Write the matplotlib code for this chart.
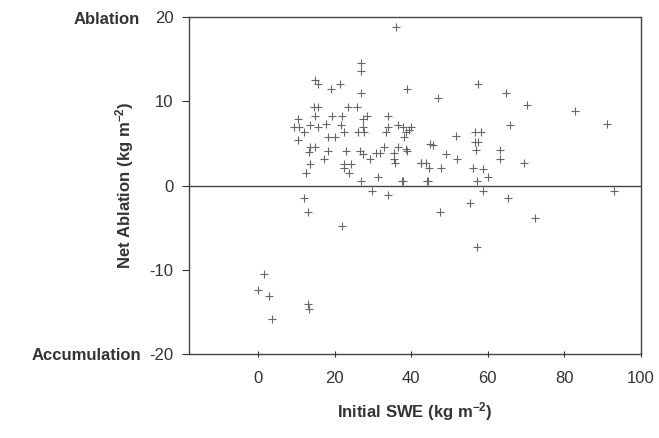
import matplotlib
matplotlib.use("Agg")
import matplotlib.pyplot as plt

plt.rcParams['font.family'] = ['Liberation Sans', 'DejaVu Sans']
plt.rcParams['axes.unicode_minus'] = False
plt.rcParams['mathtext.default'] = 'regular'

# Initial SWE (kg m^-2)
swe = [36.0, 26.9, 26.9, 14.9, 15.7, 19.0, 21.4, 26.9, 38.9, 47.0, 57.4, 64.8,
       70.2, 82.8, 91.0, 65.8,
       14.6, 15.7, 23.5, 25.8, 10.4, 14.9, 19.3, 21.9, 27.4, 28.5, 33.9,
       9.4, 10.7, 12.0, 13.6, 15.7, 17.8, 21.7, 22.5, 27.4, 27.7, 26.1,
       33.9, 33.4, 36.6, 37.9, 40.0, 38.6, 38.1, 10.4, 18.3, 20.1,
       13.6, 14.9, 13.3, 18.3, 23.0, 26.6, 27.4, 32.9, 30.8, 31.9, 29.2,
       35.5, 35.5, 35.8, 36.6, 38.9, 17.2, 13.6, 22.5, 24.3, 22.5, 23.8,
       12.5, 26.9, 31.3, 37.6, 44.1, 42.6, 43.9, 44.9,
       51.7, 56.7, 58.2, 56.7, 57.4, 45.7, 38.6, 63.2, 49.1, 52.0, 56.9,
       63.2, 42.6, 44.6, 47.8, 56.1, 58.7, 60.1, 37.9, 44.4, 57.2, 69.5, 39.4,
       58.7, 65.3, 55.4, 47.5, 72.3, 57.2, 93.0,
       12.0, 13.0, 21.9, 29.8, 33.9, 1.6, 0.0, 2.9, 3.7, 13.0, 13.2]

# Net ablation (kg m^-2)
abl = [18.8, 13.6, 14.5, 12.5, 12.0, 11.5, 12.0, 11.0, 11.5, 10.4, 12.0, 11.0,
       9.5, 8.9, 7.3, 7.2,
       9.3, 9.3, 9.3, 9.3, 7.9, 8.3, 8.3, 8.3, 7.9, 8.3, 8.3,
       6.9, 6.9, 6.3, 7.2, 6.9, 7.3, 7.2, 6.4, 6.9, 6.3, 6.3,
       7.0, 6.4, 7.2, 6.9, 6.9, 6.3, 5.8, 5.4, 5.8, 5.8,
       4.6, 4.6, 4.0, 4.1, 4.1, 4.1, 3.7, 4.6, 3.8, 3.8, 3.2,
       3.8, 3.1, 2.7, 4.6, 4.1, 3.1, 2.6, 2.6, 2.6, 2.1, 1.5,
       1.5, 0.5, 1.0, 0.5, 0.5, 2.7, 2.7, 4.9,
       5.9, 6.3, 6.3, 5.2, 5.2, 4.8, 4.3, 4.2, 3.7, 3.2, 4.2,
       3.1, 2.7, 2.1, 2.1, 2.1, 1.9, 1.0, 0.5, 0.5, 0.5, 2.7, 6.6,
       -0.7, -1.5, -2.1, -3.2, -3.8, -7.3, -0.7,
       -1.5, -3.2, -4.8, -0.6, -1.1, -10.5, -12.4, -13.1, -15.9, -14.1, -14.6]

x_ticks = [0, 20, 40, 60, 80, 100]
y_ticks = [-20, -10, 0, 10, 20]

fig = plt.figure(figsize=(6.59, 4.38), dpi=100)
ax = fig.add_axes([189/659, 1-354/438, (641-189)/659, (354-17)/438])

ax.scatter(swe, abl, marker='+', s=30, linewidths=0.8, color='#666666', zorder=3)
ax.axhline(0, color='#444444', lw=1.0, zorder=2)

ax.set_xlim(-18, 100)
ax.set_ylim(-20, 20)
ax.set_xticks(x_ticks)
ax.set_yticks(y_ticks)
ax.tick_params(axis='y', direction='out', length=5, width=0.8, pad=6,
               labelsize=12, colors='#333333')
ax.tick_params(axis='x', direction='inout', length=5, width=0.8, pad=10,
               labelsize=12, colors='#333333')
for s in ax.spines.values():
    s.set_color('#444444')
    s.set_linewidth(1.0)

ax.set_xlabel('Initial SWE (kg m$^{-2}$)', fontsize=12, fontweight='bold',
              color='#333333', labelpad=10)
ax.set_ylabel('Net Ablation (kg m$^{-2}$)', fontsize=12, fontweight='bold',
              color='#333333', labelpad=10)

fig.text(140/659, 1-20/438, 'Ablation', ha='right', va='center', fontsize=12,
         fontweight='bold', color='#333333')
fig.text(141/659, 1-355/438, 'Accumulation', ha='right', va='center', fontsize=12,
         fontweight='bold', color='#333333')

fig.savefig('out.png', dpi=100)
